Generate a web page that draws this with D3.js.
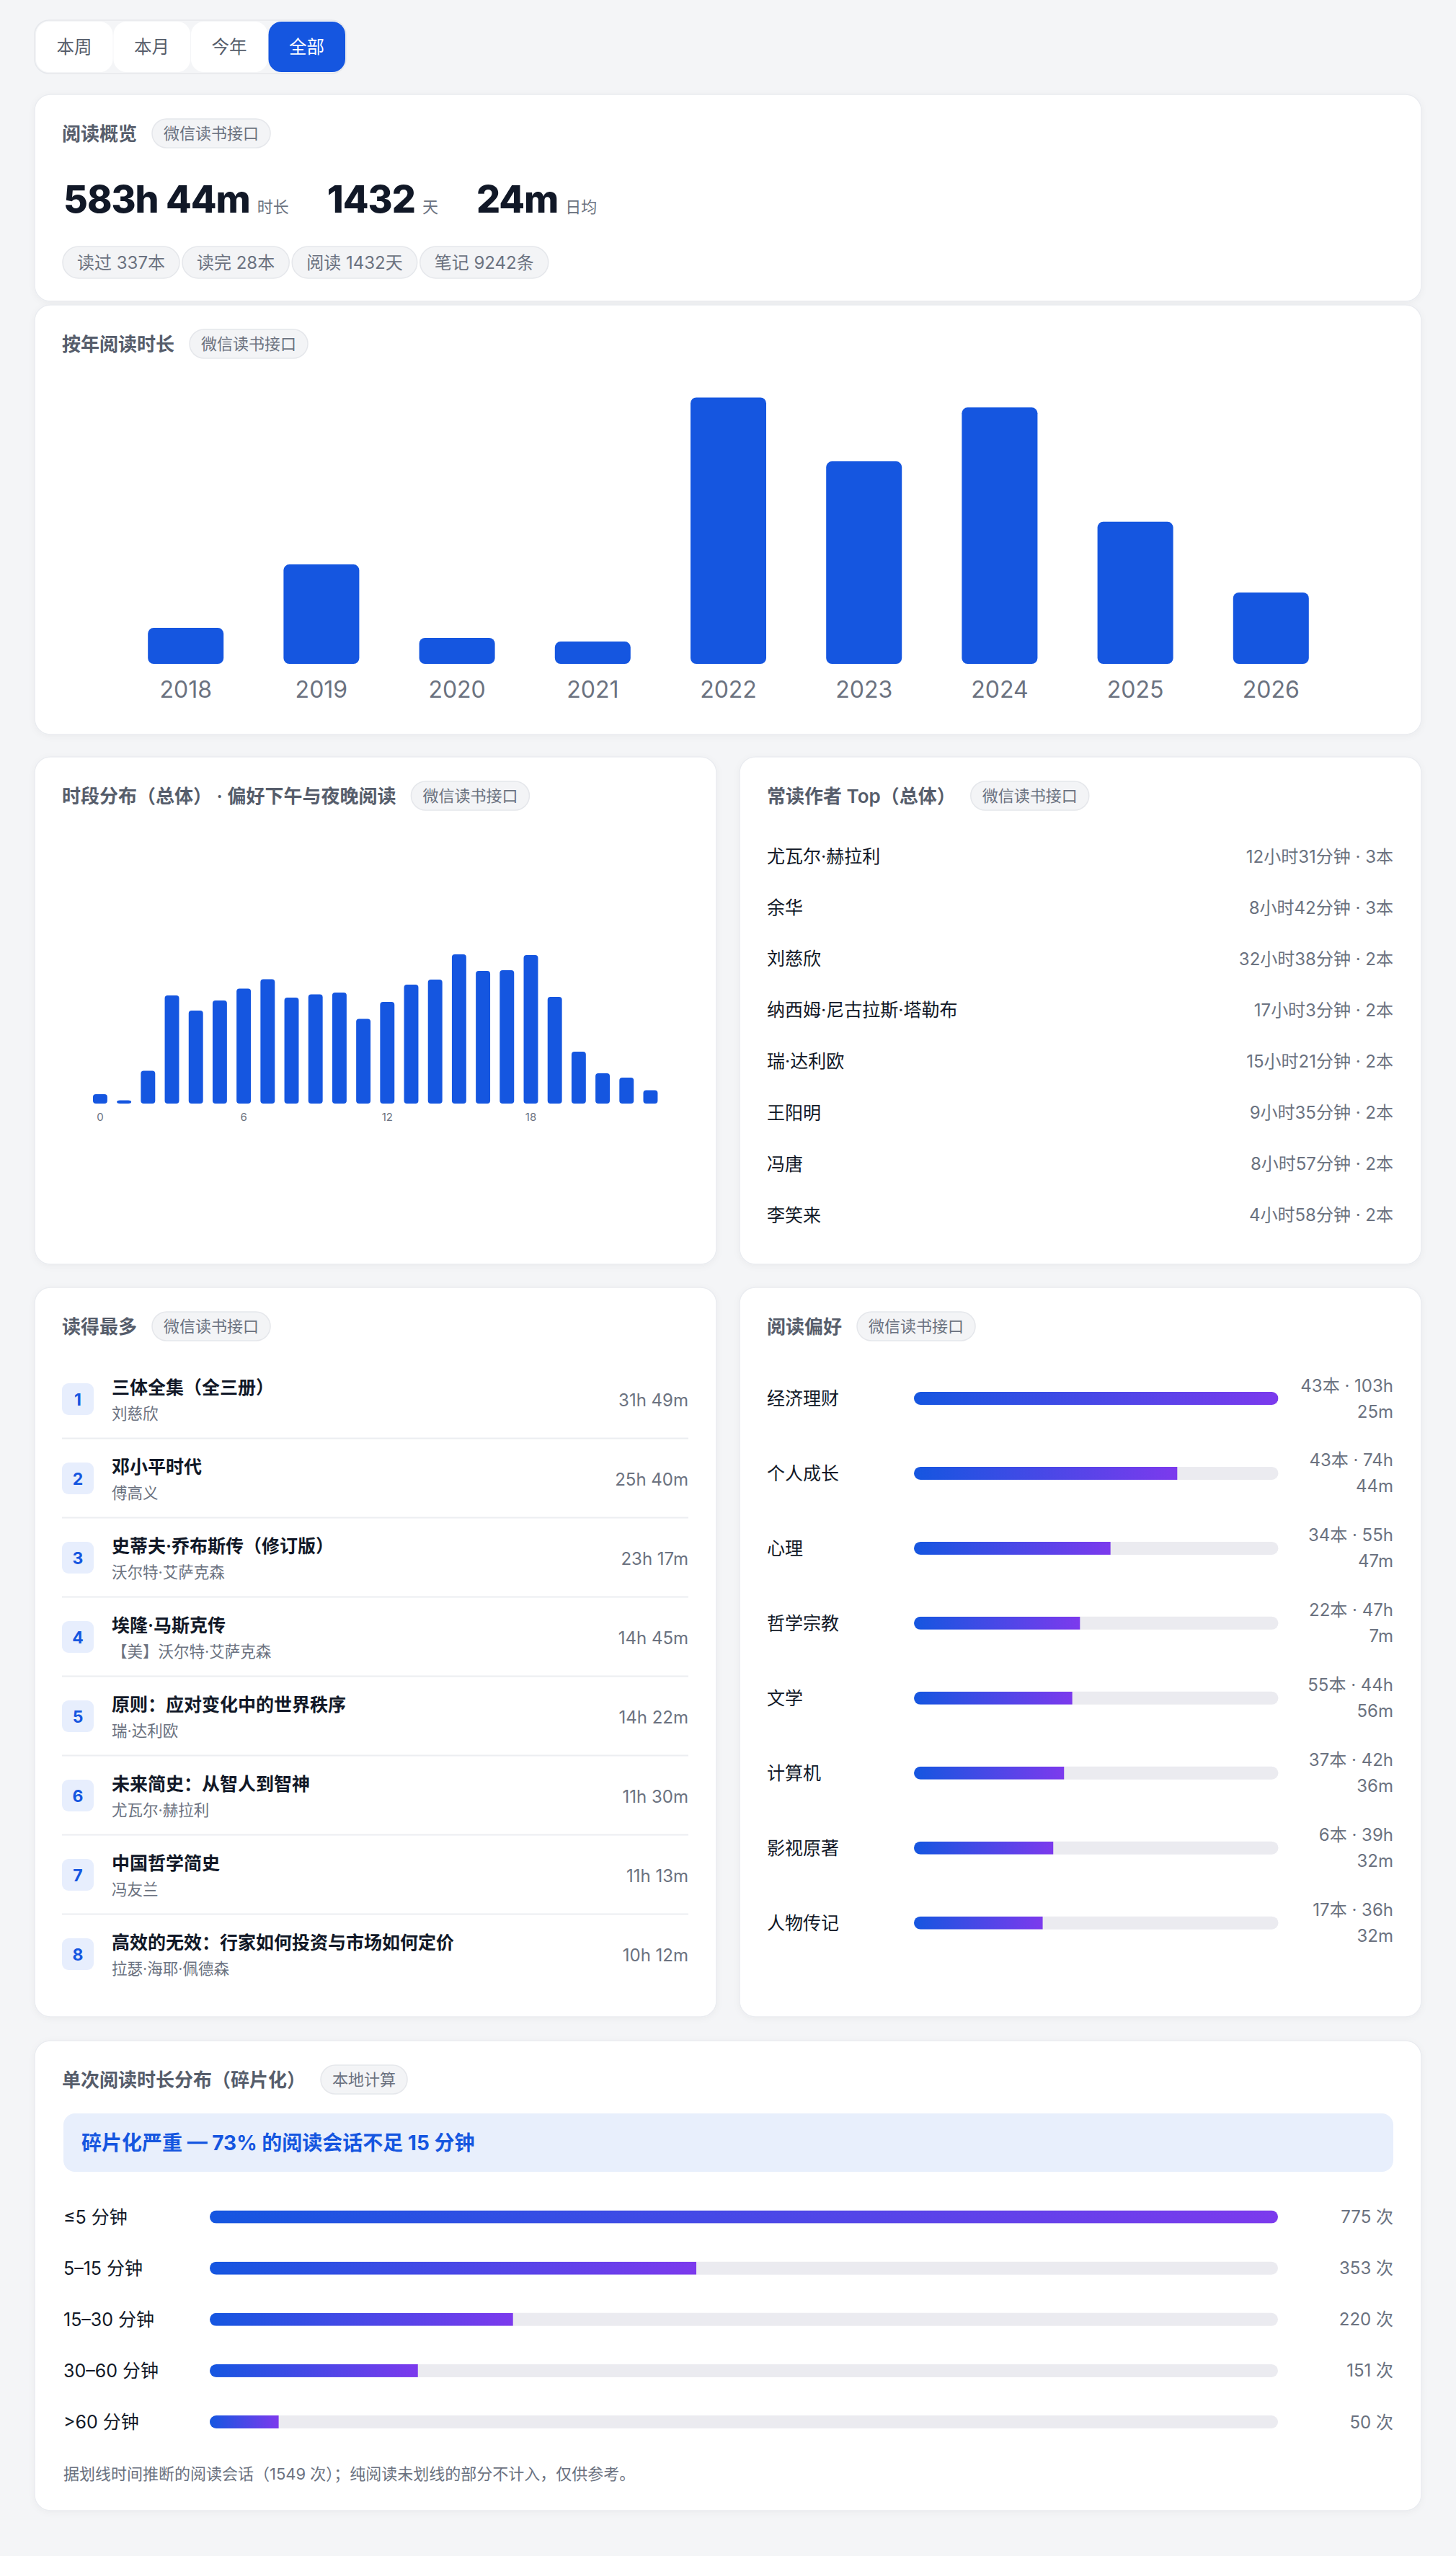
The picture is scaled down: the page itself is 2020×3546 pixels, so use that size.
<!DOCTYPE html>
<html>
<head>
<meta charset="utf-8">
<script src="https://cdn.jsdelivr.net/npm/d3@7/dist/d3.min.js"></script>
<style>
  body { margin: 0; background: #f4f5f7; }
  svg { display: block; font-family: Inter, "Noto Sans CJK SC", sans-serif; }
</style>
</head>
<body>
<div id="page"></div>
<script>
// ---- data ----
var tabLabels = ['本周', '本月', '今年', '全部'];
var activeTab = 3;

var statValues = ['583h 44m', '1432', '24m'];
var statLabels = ['时长', '天', '日均'];
var chipLabels = ['读过 337本', '读完 28本', '阅读 1432天', '笔记 9242条'];

var years = ['2018', '2019', '2020', '2021', '2022', '2023', '2024', '2025', '2026'];
var yearHours = [18.7, 51.7, 13.5, 11.6, 138.5, 105.3, 133.3, 73.9, 37.1];

var hourSlots = [0, 1, 2, 3, 4, 5, 6, 7, 8, 9, 10, 11, 12, 13, 14, 15, 16, 17, 18, 19, 20, 21, 22, 23];
var hourValues = [13, 4.5, 45.5, 150, 129, 143, 159.5, 172.5, 147, 151.5, 154, 117.5, 141, 165, 172, 207, 184, 185, 206, 148, 72, 42, 36, 18.5];
var hourTicks = [0, 6, 12, 18];

var authorNames = ['尤瓦尔·赫拉利', '余华', '刘慈欣', '纳西姆·尼古拉斯·塔勒布', '瑞·达利欧', '王阳明', '冯唐', '李笑来'];
var authorMinutes = [751, 522, 1958, 1023, 921, 575, 537, 298];
var authorBooks = [3, 3, 2, 2, 2, 2, 2, 2];

var bookTitles = ['三体全集（全三册）', '邓小平时代', '史蒂夫·乔布斯传（修订版）', '埃隆·马斯克传', '原则：应对变化中的世界秩序', '未来简史：从智人到智神', '中国哲学简史', '高效的无效：行家如何投资与市场如何定价'];
var bookAuthors = ['刘慈欣', '傅高义', '沃尔特·艾萨克森', '【美】沃尔特·艾萨克森', '瑞·达利欧', '尤瓦尔·赫拉利', '冯友兰', '拉瑟·海耶·佩德森'];
var bookMinutes = [1909, 1540, 1397, 885, 862, 690, 673, 612];

var prefCategories = ['经济理财', '个人成长', '心理', '哲学宗教', '文学', '计算机', '影视原著', '人物传记'];
var prefBooks = [43, 43, 34, 22, 55, 37, 6, 17];
var prefMinutes = [6205, 4484, 3347, 2827, 2696, 2556, 2372, 2192];

var sessionBuckets = ['≤5 分钟', '5–15 分钟', '15–30 分钟', '30–60 分钟', '>60 分钟'];
var sessionCounts = [775, 353, 220, 151, 50];

// ---- colours ----
var blue = '#1556e0';
var textDark = '#111827';
var textMid = '#565d6b';
var textSoft = '#6b7280';
var trackColor = '#ebebf0';

var svg = d3.select('#page').append('svg')
    .attr('width', 2020)
    .attr('height', 3546);

var defs = svg.append('defs');
var shadow = defs.append('filter').attr('id', 'shadow')
    .attr('x', '-5%').attr('y', '-5%').attr('width', '110%').attr('height', '110%');
shadow.append('feDropShadow').attr('dx', 0).attr('dy', 2).attr('stdDeviation', 4)
    .attr('flood-color', '#000').attr('flood-opacity', 0.04);

var grad = defs.append('linearGradient').attr('id', 'barGrad')
    .attr('x1', '0%').attr('x2', '100%').attr('y1', '0%').attr('y2', '0%');
grad.append('stop').attr('offset', '0%').attr('stop-color', '#1556e0');
grad.append('stop').attr('offset', '100%').attr('stop-color', '#7c3aed');

svg.append('rect').attr('width', 2020).attr('height', 3546).attr('fill', '#f4f5f7');

// ---- tabs ----
var tabs = svg.append('g');
tabs.append('rect')
    .attr('x', 48).attr('y', 28).attr('width', 432).attr('height', 74).attr('rx', 20)
    .attr('fill', '#f4f5f7').attr('stroke', '#e6e8ec').attr('stroke-width', 1.5);
tabLabels.forEach(function (t, i) {
    tabs.append('rect')
        .attr('x', 50 + i * 107.5).attr('y', 30).attr('width', 106.5).attr('height', 70).attr('rx', 18)
        .attr('fill', i === activeTab ? blue : '#fff');
    tabs.append('text')
        .attr('x', 50 + i * 107.5 + 53).attr('y', 65)
        .attr('text-anchor', 'middle').attr('dominant-baseline', 'central')
        .attr('font-size', 24.5)
        .attr('fill', i === activeTab ? '#fff' : textMid)
        .text(t);
});

// ---- card helper ----
function card(x, y, w, h, title, badge) {
    var g = svg.append('g');
    g.append('rect')
        .attr('x', x).attr('y', y).attr('width', w).attr('height', h).attr('rx', 22)
        .attr('fill', '#fff').attr('stroke', '#eaecf0').attr('stroke-width', 1.5)
        .attr('filter', 'url(#shadow)');
    var tt = g.append('text')
        .attr('x', x + 38).attr('y', y + 54)
        .attr('dominant-baseline', 'central')
        .attr('font-size', 26).attr('font-weight', 600).attr('fill', textMid)
        .text(title);
    var bx = x + 38 + tt.node().getComputedTextLength() + 21;
    var bt = g.append('text')
        .attr('x', bx + 16).attr('y', y + 54)
        .attr('dominant-baseline', 'central')
        .attr('font-size', 22).attr('fill', textSoft)
        .text(badge);
    var bw = bt.node().getComputedTextLength() + 32;
    g.insert('rect', 'text:last-child')
        .attr('x', bx).attr('y', y + 34).attr('width', bw).attr('height', 40).attr('rx', 20)
        .attr('fill', '#f3f4f6').attr('stroke', '#e5e7eb').attr('stroke-width', 1.5);
    return g;
}

// ---- overview ----
var c1 = card(48, 131, 1924, 287, '阅读概览', '微信读书接口');
var sx = 88;
statValues.forEach(function (v, i) {
    var num = c1.append('text')
        .attr('x', sx).attr('y', 295)
        .attr('font-size', 52).attr('font-weight', 800).attr('letter-spacing', -1)
        .attr('fill', textDark).text(v);
    sx += num.node().getComputedTextLength() + 10;
    var lab = c1.append('text')
        .attr('x', sx).attr('y', 295)
        .attr('font-size', 22).attr('fill', textSoft).text(statLabels[i]);
    sx += lab.node().getComputedTextLength() + 53;
});
var cx = 87;
chipLabels.forEach(function (c) {
    var g = c1.append('g');
    var r = g.append('rect').attr('y', 342).attr('height', 44).attr('rx', 22)
        .attr('fill', '#f3f4f6').attr('stroke', '#e5e7eb').attr('stroke-width', 1.5);
    var t = g.append('text').attr('x', cx + 20).attr('y', 364)
        .attr('dominant-baseline', 'central')
        .attr('font-size', 24).attr('fill', textSoft).text(c);
    var w = t.node().getComputedTextLength() + 40;
    r.attr('x', cx).attr('width', w);
    cx += w + 4;
});

// ---- yearly reading time ----
var c2 = card(48, 423, 1924, 596, '按年阅读时长', '微信读书接口');
var xYear = d3.scaleBand().domain(years).range([122, 1899]).padding(0.442);
var yYear = d3.scaleLinear().domain([0, d3.max(yearHours)]).range([921, 551.5]);
c2.selectAll('.ybar').data(years).enter().append('rect')
    .attr('x', function (d) { return xYear(d); })
    .attr('width', xYear.bandwidth())
    .attr('y', function (d, i) { return yYear(yearHours[i]); })
    .attr('height', function (d, i) { return 921 - yYear(yearHours[i]); })
    .attr('rx', 8)
    .attr('fill', blue);
var yAxis = c2.append('g')
    .attr('transform', 'translate(0,921)')
    .call(d3.axisBottom(xYear).tickSize(0).tickPadding(24));
yAxis.select('.domain').remove();
yAxis.selectAll('text').attr('font-size', 32).attr('fill', textSoft)
    .attr('font-family', 'Inter, "Noto Sans CJK SC", sans-serif');

// ---- hour distribution ----
var c3 = card(48, 1050, 946, 704, '时段分布（总体） · 偏好下午与夜晚阅读', '微信读书接口');
var xHour = d3.scaleBand().domain(hourSlots).range([115.7, 925.7]).padding(0.4);
var yHour = d3.scaleLinear().domain([0, d3.max(hourValues)]).range([1531, 1324]);
c3.selectAll('.hbar').data(hourSlots).enter().append('rect')
    .attr('x', function (d) { return xHour(d); })
    .attr('width', xHour.bandwidth())
    .attr('y', function (d, i) { return yHour(hourValues[i]); })
    .attr('height', function (d, i) { return 1531 - yHour(hourValues[i]); })
    .attr('rx', 4)
    .attr('fill', blue);
var hAxis = c3.append('g')
    .attr('transform', 'translate(0,1531)')
    .call(d3.axisBottom(xHour).tickValues(hourTicks).tickSize(0).tickPadding(13));
hAxis.select('.domain').remove();
hAxis.selectAll('text').attr('font-size', 15).attr('fill', textSoft)
    .attr('font-family', 'Inter, "Noto Sans CJK SC", sans-serif');

// ---- top authors ----
var c4 = card(1026, 1050, 946, 704, '常读作者 Top（总体）', '微信读书接口');
authorNames.forEach(function (n, i) {
    var y = 1188 + i * 71.1;
    c4.append('text').attr('x', 1064).attr('y', y)
        .attr('dominant-baseline', 'central')
        .attr('font-size', 25).attr('fill', textDark).text(n);
    var m = authorMinutes[i];
    c4.append('text').attr('x', 1933).attr('y', y)
        .attr('dominant-baseline', 'central').attr('text-anchor', 'end')
        .attr('font-size', 24).attr('fill', textSoft)
        .text(Math.floor(m / 60) + '小时' + (m % 60) + '分钟 · ' + authorBooks[i] + '本');
});

// ---- most read books ----
var c5 = card(48, 1786, 946, 1012, '读得最多', '微信读书接口');
bookTitles.forEach(function (t, i) {
    var y = 1941 + i * 110;
    c5.append('rect').attr('x', 86).attr('y', y - 22).attr('width', 44).attr('height', 44).attr('rx', 9)
        .attr('fill', '#e7eefd');
    c5.append('text').attr('x', 108).attr('y', y + 1)
        .attr('dominant-baseline', 'central').attr('text-anchor', 'middle')
        .attr('font-size', 23).attr('font-weight', 700).attr('fill', blue).text(i + 1);
    c5.append('text').attr('x', 155).attr('y', y - 16)
        .attr('dominant-baseline', 'central')
        .attr('font-size', 25).attr('font-weight', 600).attr('fill', textDark).text(t);
    c5.append('text').attr('x', 155).attr('y', y + 20)
        .attr('dominant-baseline', 'central')
        .attr('font-size', 21.5).attr('fill', textSoft).text(bookAuthors[i]);
    var m = bookMinutes[i];
    c5.append('text').attr('x', 955).attr('y', y + 1)
        .attr('dominant-baseline', 'central').attr('text-anchor', 'end')
        .attr('font-size', 24).attr('fill', textSoft)
        .text(Math.floor(m / 60) + 'h ' + (m % 60) + 'm');
    if (i < bookTitles.length - 1) {
        c5.append('line').attr('x1', 86).attr('x2', 955)
            .attr('y1', y + 54.5).attr('y2', y + 54.5)
            .attr('stroke', '#eceef1').attr('stroke-width', 2);
    }
});

// ---- gradient bar helper ----
var clipId = 0;
function gradBar(g, x0, x1, y, frac) {
    var id = 'clip' + (clipId++);
    defs.append('clipPath').attr('id', id).append('rect')
        .attr('x', x0).attr('y', y - 9).attr('width', x1 - x0).attr('height', 18).attr('rx', 9);
    g.append('rect').attr('x', x0).attr('y', y - 9).attr('width', x1 - x0).attr('height', 18).attr('rx', 9)
        .attr('fill', trackColor);
    g.append('rect').attr('x', x0).attr('y', y - 9).attr('width', (x1 - x0) * frac).attr('height', 18)
        .attr('fill', 'url(#barGrad)').attr('clip-path', 'url(#' + id + ')');
}

// ---- reading preference ----
var c6 = card(1026, 1786, 946, 1012, '阅读偏好', '微信读书接口');
var xPref = d3.scaleLinear().domain([0, d3.max(prefMinutes)]).range([0, 1]);
prefCategories.forEach(function (c, i) {
    var y = 1940 + i * 103.95;
    c6.append('text').attr('x', 1064).attr('y', y)
        .attr('dominant-baseline', 'central')
        .attr('font-size', 25).attr('fill', textDark).text(c);
    gradBar(c6, 1268, 1773.5, y, xPref(prefMinutes[i]));
    var m = prefMinutes[i];
    c6.append('text').attr('x', 1933).attr('y', y - 18)
        .attr('dominant-baseline', 'central').attr('text-anchor', 'end')
        .attr('font-size', 24).attr('fill', textSoft)
        .text(prefBooks[i] + '本 · ' + Math.floor(m / 60) + 'h');
    c6.append('text').attr('x', 1933).attr('y', y + 18)
        .attr('dominant-baseline', 'central').attr('text-anchor', 'end')
        .attr('font-size', 24).attr('fill', textSoft)
        .text((m % 60) + 'm');
});

// ---- session length distribution ----
var c7 = card(48, 2831, 1924, 652, '单次阅读时长分布（碎片化）', '本地计算');
var totalSessions = d3.sum(sessionCounts);
var shortShare = Math.round((sessionCounts[0] + sessionCounts[1]) / totalSessions * 100);
c7.append('rect').attr('x', 88).attr('y', 2932).attr('width', 1845).attr('height', 81).attr('rx', 16)
    .attr('fill', '#e8effc');
c7.append('text').attr('x', 113).attr('y', 2973)
    .attr('dominant-baseline', 'central')
    .attr('font-size', 28).attr('font-weight', 700).attr('fill', blue)
    .text('碎片化严重 — ' + shortShare + '% 的阅读会话不足 15 分钟');
var xSess = d3.scaleLinear().domain([0, d3.max(sessionCounts)]).range([0, 1]);
sessionBuckets.forEach(function (b, i) {
    var y = 3075.6 + i * 71.1;
    c7.append('text').attr('x', 88).attr('y', y)
        .attr('dominant-baseline', 'central')
        .attr('font-size', 25).attr('fill', textDark).text(b);
    gradBar(c7, 291, 1773, y, xSess(sessionCounts[i]));
    c7.append('text').attr('x', 1933).attr('y', y)
        .attr('dominant-baseline', 'central').attr('text-anchor', 'end')
        .attr('font-size', 24).attr('fill', textSoft)
        .text(sessionCounts[i] + ' 次');
});
c7.append('text').attr('x', 88).attr('y', 3432)
    .attr('dominant-baseline', 'central')
    .attr('font-size', 22).attr('fill', textSoft)
    .text('据划线时间推断的阅读会话（' + totalSessions + ' 次）；纯阅读未划线的部分不计入，仅供参考。');
</script>
</body>
</html>
